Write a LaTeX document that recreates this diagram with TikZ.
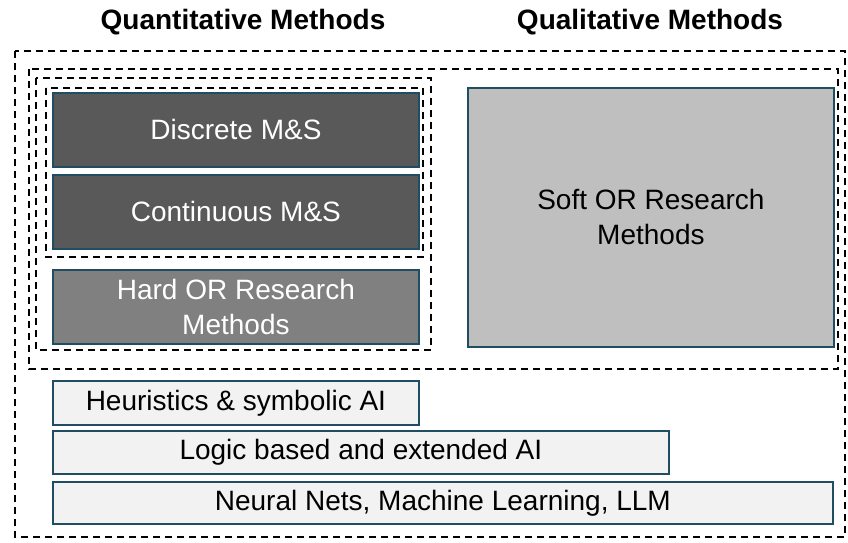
\documentclass[tikz,border=0pt]{standalone}
\usepackage{fontspec}
\setmainfont{Liberation Sans}
\definecolor{edge}{RGB}{31,78,99}
\definecolor{darkbox}{RGB}{89,89,89}
\definecolor{midbox}{RGB}{128,128,128}
\definecolor{softbox}{RGB}{191,191,191}
\definecolor{lightbox}{RGB}{242,242,242}
\tikzset{
  box/.style={draw=edge, line width=1.8pt, anchor=north west, inner sep=0pt, align=center, font=\fontsize{28}{35}\selectfont},
  dashbox/.style={draw=black, line width=1.4pt, dash pattern=on 7pt off 5pt},
  header/.style={font=\fontsize{28}{32}\selectfont\bfseries}
}
\begin{document}
\begin{tikzpicture}[x=1pt,y=-1pt]
\useasboundingbox (0,0) rectangle (848,542);
% headers
\node[header] (quant) at (243,22) {Quantitative Methods};
\node[header] (qual) at (650,22) {Qualitative Methods};
% dashed frames
\draw[dashbox] (15,51) rectangle (845,537);
\draw[dashbox] (29,69) rectangle (838,369);
\draw[dashbox] (36,78) rectangle (431,350);
\draw[dashbox] (46,88) rectangle (423,257);
% boxes
\node[box, fill=darkbox, text=white, minimum width=366pt, minimum height=74pt] (discrete) at (52,92) {Discrete M\&S};
\node[box, fill=darkbox, text=white, minimum width=366pt, minimum height=74pt] (continuous) at (52,174) {Continuous M\&S};
\node[box, fill=midbox, text=white, minimum width=366pt, minimum height=74pt] (hard) at (52,269) {Hard OR Research\\Methods};
\node[box, fill=softbox, text=black, minimum width=366pt, minimum height=259pt] (soft) at (467,87) {Soft OR Research\\Methods};
\node[box, fill=lightbox, text=black, minimum width=366pt, minimum height=44pt] (heur) at (52,380) {Heuristics \& symbolic AI};
\node[box, fill=lightbox, text=black, minimum width=616pt, minimum height=43pt] (logic) at (52,430) {Logic based and extended AI};
\node[box, fill=lightbox, text=black, minimum width=780pt, minimum height=42pt] (neural) at (52,481) {Neural Nets, Machine Learning, LLM};
\end{tikzpicture}
\end{document}
